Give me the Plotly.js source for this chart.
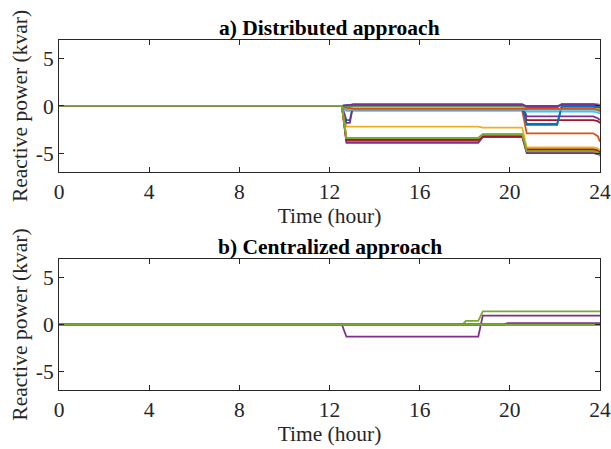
<!DOCTYPE html>
<html>
<head>
<meta charset="utf-8">
<script src="https://cdn.plot.ly/plotly-3.0.1.min.js"></script>
<style>html,body{margin:0;padding:0;background:#fff;}#chart{width:611px;height:449px;}</style>
</head>
<body>
<div id="chart"></div>
<script>
// MATLAB default colour order
const colorOrder = ['#0072BD', '#D95319', '#EDB120', '#7E2F8E', '#77AC30', '#4DBEEE', '#A2142F'];

// ---- a) Distributed approach: shared time grid (hour) and per-inverter reactive power (kvar)
const timeA = [0, 12.55, 12.75, 12.9, 13.05, 18.6, 18.8, 20.55, 20.75, 22.1, 22.3, 23.7, 23.9, 24];
const distA1  = [0, 0, -1.5, -1.5, 0.1, 0.1, 0.1, 0.1, -1.9, -1.9, -0.1, -0.1, -0.2, -0.3];
const distA2  = [0, 0, -0.5, -0.5, -0.5, -0.5, -0.5, -0.5, -2.9, -2.9, -2.9, -2.9, -3.2, -3.8];
const distA3  = [0, 0, -2.2, -2.2, -2.2, -2.2, -2.3, -2.3, -4.5, -4.5, -4.5, -4.5, -4.6, -4.8];
const distA4  = [0, 0, -1.8, -1.8, 0.1, 0.1, 0.1, 0.1, -1.1, -1.1, -1.1, -1.1, -1.3, -1.5];
const distA5  = [0, 0, -3.5, -3.5, -3.5, -3.5, -3.1, -3.1, -4.9, -4.9, -4.9, -4.9, -5.0, -5.3];
const distA6  = [0, 0, -0.1, -0.1, -0.1, -0.1, -0.1, -0.1, -0.6, -0.6, -0.6, -0.6, -0.7, -0.8];
const distA7  = [0, 0, -0.3, -0.3, -0.3, -0.3, -0.3, -0.3, -1.5, -1.5, -1.5, -1.5, -1.6, -1.8];
const distA8  = [0, 0, -0.1, -0.1, 0.0, 0.0, 0.0, 0.0, -2.0, -2.0, 0.0, 0.0, -0.1, -0.2];
const distA9  = [0, 0, -3.7, -3.7, -3.7, -3.7, -3.2, -3.2, -4.7, -4.7, -4.7, -4.7, -4.8, -5.0];
const distA10 = [0, 0, -0.2, -0.2, -0.2, -0.2, -0.2, -0.2, -0.3, -0.3, -0.3, -0.3, -0.3, -0.4];
const distA11 = [0, 0, -3.9, -3.9, -3.9, -3.9, -3.3, -3.3, -5.0, -5.0, -5.0, -5.0, -5.1, -5.2];
const distA12 = [0, 0, 0.0, 0.0, 0.0, 0.0, 0.0, 0.0, -0.2, -0.2, 0.2, 0.2, 0.2, 0.1];
const distA13 = [0, 0, -0.4, -0.4, -0.4, -0.4, -0.4, -0.4, -0.4, -0.4, -0.4, -0.4, -0.5, -0.6];
const distA14 = [0, 0, -3.6, -3.6, -3.6, -3.6, -3.2, -3.2, -4.6, -4.6, -4.6, -4.6, -4.7, -4.9];
const distA15 = [0, 0, 0.1, 0.1, 0.1, 0.1, 0.1, 0.1, 0.0, 0.0, 0.1, 0.1, 0.0, -0.1];
const distA16 = [0, 0, -0.2, -0.2, -0.3, -0.3, -0.3, -0.3, -0.3, -0.3, -0.3, -0.3, -0.4, -0.5];
const distA17 = [0, 0, -3.4, -3.4, -3.4, -3.4, -3.0, -3.0, -4.4, -4.4, -4.4, -4.4, -4.5, -4.7];
const distA18 = [0, 0, 0.1, 0.1, 0.2, 0.2, 0.2, 0.2, -0.1, -0.1, 0.2, 0.2, 0.1, 0.0];
const distA19 = [0, 0, -3.4, -3.4, -3.4, -3.4, -3.0, -3.0, -4.8, -4.8, -4.8, -4.8, -4.9, -5.2];

// ---- b) Centralized approach
const timeB = [0, 12.55, 12.75, 17.9, 18.05, 18.6, 18.8, 19.75, 19.9, 24];
const centB1  = [0, 0, 0, 0, 0, 0, 0, 0, 0, 0];
const centB2  = [0, 0, 0, 0, 0, 0, 0, 0, 0, 0];
const centB3  = [0, 0, 0, 0, 0, 0, 0, 0, 0, 0];
const centB4  = [0, 0, -1.3, -1.3, -1.3, -1.3, 0.95, 0.95, 0.95, 0.95];
const centB5  = [0, 0, 0, 0, 0.4, 0.4, 1.4, 1.4, 1.4, 1.4];
const centB6  = [0, 0, 0, 0, 0, 0, 0, 0, 0, 0];
const centB7  = [0, 0, 0, 0, 0, 0, 0, 0, 0, 0];
const centB8  = [0, 0, 0, 0, 0, 0, 0, 0, 0, 0];
const centB9  = [0, 0, 0, 0, 0, 0, 0, 0, 0, 0];
const centB10 = [0, 0, 0, 0, 0, 0, 0, 0, 0, 0];
const centB11 = [0, 0, 0, 0, 0, 0, 0, 0, 0.15, 0.15];
const centB12 = [0, 0, 0, 0, 0, 0, 0, 0, 0, 0];

const seriesA = [distA1, distA2, distA3, distA4, distA5, distA6, distA7, distA8, distA9, distA10,
                 distA11, distA12, distA13, distA14, distA15, distA16, distA17, distA18, distA19];
const seriesB = [centB1, centB2, centB3, centB4, centB5, centB6, centB7, centB8, centB9, centB10,
                 centB11, centB12];

const xTicks = [0, 4, 8, 12, 16, 20, 24];
const yTicks = [-5, 0, 5];

const traces = [];
seriesA.forEach((y, i) => traces.push({
  x: timeA, y: y, type: 'scatter', mode: 'lines', xaxis: 'x', yaxis: 'y',
  line: {color: colorOrder[i % 7], width: 1.8}, hoverinfo: 'skip', showlegend: false
}));
seriesB.forEach((y, i) => traces.push({
  x: timeB, y: y, type: 'scatter', mode: 'lines', xaxis: 'x2', yaxis: 'y2',
  line: {color: colorOrder[i % 7], width: 1.8}, hoverinfo: 'skip', showlegend: false
}));

const font = {family: '"Liberation Serif", "Times New Roman", serif', size: 21.5, color: '#262626'};

function xAxis(anchor) {
  return {
    anchor: anchor, range: [0, 24], tickvals: xTicks, ticktext: xTicks.map(String),
    showline: true, mirror: 'allticks', linecolor: '#262626', linewidth: 1,
    ticks: 'inside', ticklen: 5, tickcolor: '#262626', showgrid: false, zeroline: false,
    ticklabeloverflow: 'allow',
    tickfont: font, title: {text: 'Time (hour)', font: font, standoff: 0}
  };
}
function yAxis(anchor, domain) {
  return {
    anchor: anchor, domain: domain, range: [-7, 7], tickvals: yTicks, ticktext: yTicks.map(String),
    showline: true, mirror: 'allticks', linecolor: '#262626', linewidth: 1,
    ticks: 'inside', ticklen: 5, tickcolor: '#262626', showgrid: false, zeroline: false,
    tickfont: font, title: {text: 'Reactive power (kvar)', font: font, standoff: 2}
  };
}

const layout = {
  width: 611, height: 449,
  margin: {l: 59, r: 11, t: 40, b: 59},
  paper_bgcolor: '#ffffff', plot_bgcolor: '#ffffff',
  font: font,
  xaxis: xAxis('y'),
  yaxis: yAxis('x', [0.623, 1]),
  xaxis2: xAxis('y2'),
  yaxis2: yAxis('x2', [0, 0.374]),
  annotations: [
    {text: '<b>a) Distributed approach</b>', xref: 'paper', yref: 'paper', x: 0.5, y: 1,
     yanchor: 'bottom', xanchor: 'center', showarrow: false, yshift: -2,
     font: {family: font.family, size: 21.5, color: '#000'}},
    {text: '<b>b) Centralized approach</b>', xref: 'paper', yref: 'paper', x: 0.5, y: 0.374,
     yanchor: 'bottom', xanchor: 'center', showarrow: false, yshift: -2,
     font: {family: font.family, size: 21.5, color: '#000'}}
  ]
};

Plotly.newPlot('chart', traces, layout, {staticPlot: true, displayModeBar: false});
</script>
</body>
</html>
